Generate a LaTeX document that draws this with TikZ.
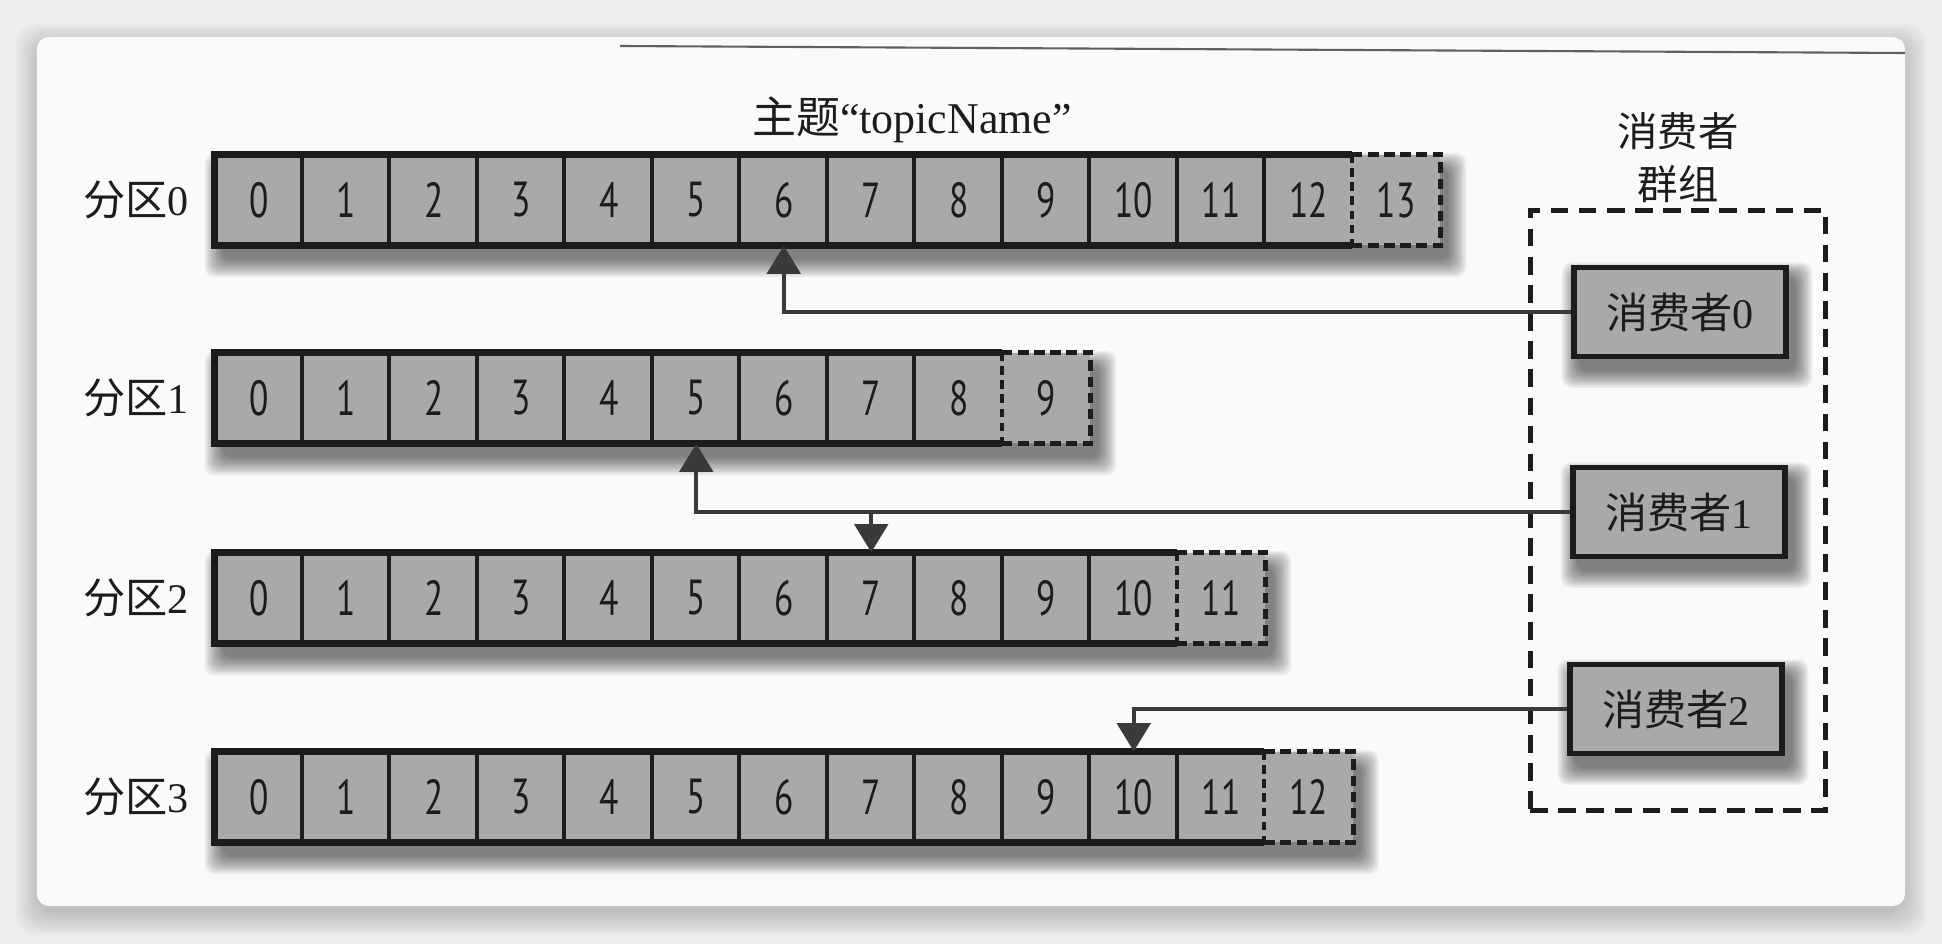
\documentclass[tikz,border=0pt]{standalone}
\usepackage{fontspec}
\setmainfont{Liberation Serif}
\newfontfamily\cjk{Noto Sans CJK SC}
\newfontfamily\numfont[FakeStretch=0.72]{PT Sans}
\usepackage{tikz}
\usetikzlibrary{arrows.meta, positioning, fit}
\definecolor{kfcell}{HTML}{A9A9A9}
\definecolor{kfink}{HTML}{1C1C1C}
\definecolor{kfline}{HTML}{3A3A3A}
\definecolor{kfpage}{HTML}{FAFAFA}
\definecolor{kfback}{HTML}{EDEDED}
\pgfdeclarelayer{back}
\pgfdeclarelayer{shade}
\pgfsetlayers{back,shade,main}

\begin{document}
\begin{tikzpicture}[
  cell/.style={fill=kfcell, minimum width=0.875cm, minimum height=0.9cm, inner sep=0pt, text=kfink, font=\numfont\fontsize{14}{14}\selectfont},
  divider/.style={kfink, line width=1.1pt},
  tailedge/.style={kfink, line width=1.5pt, dash pattern=on 3pt off 1.6pt},
  frame/.style={kfink, line width=1.9pt, line join=miter},
  part/.style={inner sep=0pt, text=kfink, font=\fontsize{12}{14}\selectfont},
  cons/.style={draw=kfink, line width=1.6pt, fill=kfcell, minimum width=2.12cm, minimum height=0.89cm, inner sep=0pt, text=kfink, font=\fontsize{12}{14}\selectfont},
  group/.style={draw=kfink, line width=1.5pt, dash pattern=on 5pt off 3pt, inner xsep=0.37cm, inner ysep=0.54cm},
  link/.style={draw=kfline, line width=1.1pt, -{Triangle[length=8pt, width=9.5pt]}},
  haze/.style={black, opacity=0.05, rounded corners=0.1cm}
]
  \useasboundingbox (0,0) rectangle (19.42,-9.44);

  % page card
  \begin{pgfonlayer}{back}
    \fill[kfback] (0,0) rectangle (19.42,-9.44);
    \foreach \s in {0,...,7}
      \fill[black, opacity=0.025, rounded corners=0.2cm] (0.37-0.03*\s,-0.45+0.03*\s) rectangle (19.05+0.03*\s,-9.14-0.03*\s);
    \fill[kfpage, rounded corners=0.12cm] (0.37,-0.37) rectangle (19.05,-9.06);
    \draw[kfline!80, line width=0.6pt] (6.2,-0.46) -- (19.05,-0.53);
  \end{pgfonlayer}

  \node[part, font=\fontsize{12.5}{14}\selectfont] (topic) at (9.12,-1.20) {{\cjk 主题}“topicName”};

  % partitions
  \foreach \r/\y/\n in {0/-2.00/13, 1/-3.98/9, 2/-5.98/11, 3/-7.97/12} {
    \foreach \k in {0,...,\n}
      \node[cell] (p\r-\k) at ({2.15+(\k+0.5)*0.875},\y) {\k};
    \pgfmathtruncatemacro\m{\n-1}
    \foreach \k in {1,...,\m}
      \draw[divider] (p\r-\k.north west) -- (p\r-\k.south west);
    \draw[frame] (p\r-\n.north west) -- (p\r-0.north west) -- (p\r-0.south west) -- (p\r-\n.south west);
    \draw[tailedge] (p\r-\n.north west) -- (p\r-\n.north east) -- (p\r-\n.south east) -- (p\r-\n.south west);
    \draw[divider, dash pattern=on 2.5pt off 1.5pt] (p\r-\n.north west) -- (p\r-\n.south west);
    \node[part, left=0.25cm of p\r-0] (lab\r) {{\cjk 分区}\r};
    \begin{pgfonlayer}{shade}
      \foreach \s in {0,...,11}
        \fill[haze] ([shift={(0.08-0.016*\s,-0.14+0.014*\s)}]p\r-0.north west) rectangle ([shift={(0.08+0.016*\s,-0.14-0.016*\s)}]p\r-\n.south east);
    \end{pgfonlayer}
  }

  % consumers
  \node[cons] (c0) at (16.80,-3.12) {{\cjk 消费者}0};
  \node[cons] (c1) at (16.79,-5.12) {{\cjk 消费者}1};
  \node[cons] (c2) at (16.76,-7.09) {{\cjk 消费者}2};
  \begin{pgfonlayer}{shade}
    \foreach \c in {c0,c1,c2}
      \foreach \s in {0,...,11}
        \fill[haze] ([shift={(0.07-0.015*\s,-0.12+0.013*\s)}]\c.north west) rectangle ([shift={(0.07+0.015*\s,-0.12-0.015*\s)}]\c.south east);
  \end{pgfonlayer}

  \node[group, fit=(c0)(c1)(c2)] (grp) {};
  \node[part, align=center, font=\cjk\fontsize{11.5}{15}\selectfont, above=0.05cm of grp] (grpname) {消费者\\群组};

  \draw[link] (c0.west) -| (p0-6.south);
  \draw[link] (c1.west) -| (p1-5.south);
  \draw[link] (p2-7.north |- c1.west) -- (p2-7.north);
  \draw[link] (c2.west) -| (p3-10.north);
\end{tikzpicture}
\end{document}
